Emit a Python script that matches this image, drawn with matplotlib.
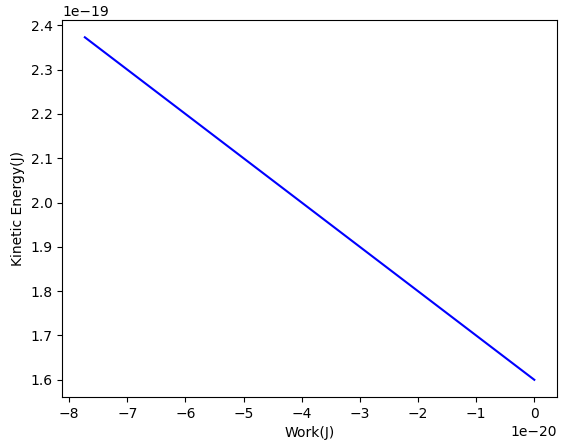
import matplotlib
matplotlib.use("Agg")
import matplotlib.pyplot as plt

work = [-7.73e-20, 0.0]
kinetic = [2.373e-19, 1.6e-19]

fig, ax = plt.subplots(figsize=(5.67, 4.48), dpi=100)
fig.subplots_adjust(left=0.11, right=0.982, top=0.955, bottom=0.114)
ax.plot(work, kinetic, color="blue")
ax.set_xlabel("Work(J)")
ax.set_ylabel("Kinetic Energy(J)")
fig.savefig("out.png")
